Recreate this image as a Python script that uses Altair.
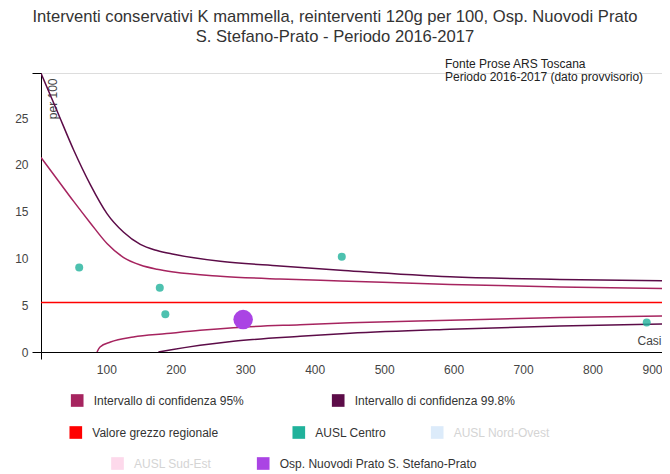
import altair as alt
import pandas as pd

FONT = "Liberation Sans"

# ---- data ----
# 95% control limits (casi, tasso per 100)
casi_95_sup = [6, 29, 53, 77, 101, 125, 149, 173, 197, 264, 350, 437, 595, 753, 908]
tasso_95_sup = [20.8, 18.5, 16.1, 13.8, 11.6, 10.1, 9.3, 8.85, 8.55, 8.1, 7.8, 7.6, 7.22, 6.96, 6.79]
casi_95_inf = [86.6, 91, 106, 139, 187, 235, 283, 379, 451, 595, 753, 908]
tasso_95_inf = [0.0, 0.54, 1.07, 1.61, 1.97, 2.32, 2.6, 2.92, 3.12, 3.4, 3.68, 3.86]
# 99.8% control limits
casi_998_sup = [6, 29, 53, 77, 101, 125, 149, 173, 197, 264, 350, 437, 595, 753, 908]
tasso_998_sup = [29.8, 25.8, 21.6, 17.9, 14.8, 12.8, 11.5, 10.85, 10.45, 9.7, 9.2, 8.75, 8.04, 7.76, 7.61]
casi_998_inf = [175, 235, 283, 379, 451, 595, 753, 908]
tasso_998_inf = [0.0, 0.71, 1.15, 1.68, 2.0, 2.43, 2.79, 3.0]
# regional raw value
valore_regionale = [5.29]
# AUSL Centro structures
centro_casi = [61, 177, 185, 439, 878]
centro_tasso = [9.04, 6.87, 4.04, 10.18, 3.15]
# selected hospital
osp_casi = [297]
osp_tasso = [3.47]

titolo = ["Interventi conservativi K mammella, reinterventi 120g per 100, Osp. Nuovodi Prato",
          "S. Stefano-Prato - Periodo 2016-2017"]
nota = ["Fonte Prose ARS Toscana", "Periodo 2016-2017 (dato provvisorio)"]

S95 = "Intervallo di confidenza 95%"
S998 = "Intervallo di confidenza 99.8%"
SREG = "Valore grezzo regionale"
SCEN = "AUSL Centro"
SNO = "AUSL Nord-Ovest"
SSE = "AUSL Sud-Est"
SOSP = "Osp. Nuovodi Prato S. Stefano-Prato"

C95 = "#a6245f"
C998 = "#5c0c48"
CREG = "#ff0000"
CCEN = "#20b29b"
CNO = "#dcebfa"
CSE = "#fdd9eb"
COSP = "#aa44e4"

# ---- tables ----
def curve(casi, tasso, serie, lim):
    return pd.DataFrame({"casi": casi, "tasso": tasso, "serie": serie, "limite": lim})

df95 = pd.concat([curve(casi_95_sup, tasso_95_sup, S95, "sup"),
                  curve(casi_95_inf, tasso_95_inf, S95, "inf")])
df998 = pd.concat([curve(casi_998_sup, tasso_998_sup, S998, "sup"),
                   curve(casi_998_inf, tasso_998_inf, S998, "inf")])
dfreg = pd.DataFrame({"tasso": valore_regionale, "serie": SREG})
dfcen = pd.DataFrame({"casi": centro_casi, "tasso": centro_tasso, "serie": SCEN})
dfosp = pd.DataFrame({"casi": osp_casi, "tasso": osp_tasso, "serie": SOSP})
empty = alt.Data(values=[])

XMIN, XMAX = 6, 900
YMAX = 29.83

x_axis = alt.Axis(
    values=[XMIN, 100, 200, 300, 400, 500, 600, 700, 800, 900],
    labelExpr="datum.value < 50 ? '' : datum.label",
    tickSize=7,
    tickColor="#000",
    tickOpacity={"condition": {"test": "datum.value < 50 || datum.value > 899", "value": 1}, "value": 0},
    domainColor="#000",
    labelFont=FONT, labelFontSize=12, labelColor="#444444", labelPadding=5,
    labelFlush=True, labelOverlap=False, grid=False,
    title="Casi", titleX=620, titleY=-8, titleAlign="right", titleBaseline="alphabetic",
    titleFont=FONT, titleFontSize=12, titleFontWeight="normal", titleColor="#444444",
)
y_axis = alt.Axis(
    values=[0, 5, 10, 15, 20, 25, YMAX],
    labelExpr="datum.value > 29 ? '' : datum.label",
    tickSize=9,
    tickColor="#000",
    tickOpacity={"condition": {"test": "datum.value < 1 || datum.value > 29", "value": 1}, "value": 0},
    domainColor="#000",
    labelFont=FONT, labelFontSize=12, labelColor="#444444", labelPadding=4,
    labelFlush=False, labelOverlap=False, grid=False,
    title="per 100", titleAngle=270, titleX=6, titleY=5, titleAlign="right", titleBaseline="top",
    titleFont=FONT, titleFontSize=12, titleFontWeight="normal", titleColor="#444444",
)
x_enc = alt.X("casi:Q", scale=alt.Scale(domain=[XMIN, XMAX], nice=False, zero=False), axis=x_axis)
y_enc = alt.Y("tasso:Q", scale=alt.Scale(domain=[0, YMAX], nice=False, zero=False), axis=y_axis)

def leg(x, y, fill, label_color="#333333"):
    return alt.Legend(orient="none", legendX=x, legendY=y, title=None, symbolType="square",
                      symbolSize=160, symbolFillColor=fill, symbolStrokeColor=fill, symbolStrokeWidth=0,
                      symbolOpacity=1, labelFont=FONT, labelFontSize=12, labelColor=label_color,
                      labelOffset=10, labelLimit=400, padding=0)

ROW1, ROW2, ROW3 = 321, 353, 384

def color(serie, col, lx, ly, label_color="#333333"):
    return alt.Color("serie:N", scale=alt.Scale(domain=[serie], range=[col]),
                     legend=leg(lx, ly, col, label_color))

l95 = alt.Chart(df95).mark_line(strokeWidth=1.5, interpolate="monotone", clip=True).encode(
    x=x_enc, y=y_enc, detail="limite:N", color=color(S95, C95, 29.7, ROW1))
l998 = alt.Chart(df998).mark_line(strokeWidth=1.5, interpolate="monotone", clip=True).encode(
    x=x_enc, y=y_enc, detail="limite:N", color=color(S998, C998, 290.7, ROW1))
lreg = alt.Chart(dfreg).mark_rule(strokeWidth=1.5).encode(
    y=y_enc, color=color(SREG, CREG, 28.3, ROW2))
lcen = alt.Chart(dfcen).mark_circle(size=64, opacity=0.8).encode(
    x=x_enc, y=y_enc, color=color(SCEN, CCEN, 251.3, ROW2))
lno = alt.Chart(empty).mark_circle(size=64).encode(
    x=x_enc, y=y_enc, color=color(SNO, CNO, 389.7, ROW2, "#d4d4d4"))
lse = alt.Chart(empty).mark_circle(size=64).encode(
    x=x_enc, y=y_enc, color=color(SSE, CSE, 70, ROW3, "#d4d4d4"))
losp = alt.Chart(dfosp).mark_circle(size=380, opacity=1).encode(
    x=x_enc, y=y_enc, color=color(SOSP, COSP, 215.7, ROW3))

lnota = alt.Chart(alt.Data(values=[{}])).mark_text(
    align="left", baseline="top", font=FONT, fontSize=12, lineHeight=13, color="#222222"
).encode(x=alt.value(404), y=alt.value(-14), text=alt.value(nota))

chart = alt.layer(l95, l998, lreg, lcen, lno, lse, losp, lnota).resolve_scale(
    color="independent"
).properties(
    width=621, height=279,
    padding={"left": 33, "top": 65, "right": 0, "bottom": 120},
    autosize=alt.AutoSizeParams(type="none"),
    title=alt.TitleParams(text=titolo, anchor="middle", frame="group", dx=-16.5, fontSize=16.6,
                          font=FONT, fontWeight="normal", color="#333333", lineHeight=20, offset=12),
).configure_view(strokeWidth=0).configure(background="white")

chart.save("out.html", embed_options={"renderer": "svg", "actions": False})
